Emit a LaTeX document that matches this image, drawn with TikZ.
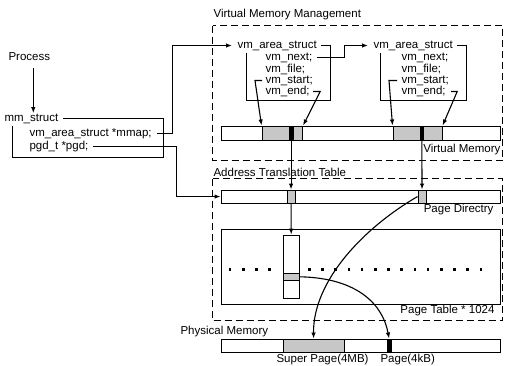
\documentclass[tikz,border=0pt]{standalone}
\usepackage{fontspec}
\setmainfont{Liberation Sans}
\usetikzlibrary{arrows.meta}
\begin{document}
\begin{tikzpicture}[x=1pt,y=-1pt,line width=1.1pt,>={Latex[length=6pt,width=4.5pt]},
    lbl/.style={font=\fontsize{11.5}{13}\selectfont,inner sep=0pt,anchor=west},
    rlbl/.style={lbl,anchor=east},
    bar/.style={draw,fill=white,inner sep=0pt,anchor=north west,minimum width=279pt},
    cell/.style={draw,fill=black!22,inner sep=0pt,anchor=north west},
    blk/.style={draw,fill=black,inner sep=0pt,anchor=north west},
    group/.style={draw,dash pattern=on 7pt off 4pt}]

    \useasboundingbox (0,0) rectangle (518,365);

    \draw[group] (212.5,25.5) rectangle (502.5,160.5);
    \draw[group] (212.5,178.5) rectangle (502.5,320.5);

    \node[lbl] (proc) at (8,57) {Process};
    \node[lbl] (mm) at (4,118.5) {mm\_struct};
    \node[lbl] (mmap) at (29,133.5) {vm\_area\_struct *mmap;};
    \node[lbl] (pgd) at (29,146.5) {pgd\_t *pgd;};

    \node[lbl] (vma1) at (237,45.5) {vm\_area\_struct};
    \node[lbl] (f1next) at (265,57.5) {vm\_next;};
    \node[lbl] (f1file) at (265,69) {vm\_file;};
    \node[lbl] (f1start) at (265,80.5) {vm\_start;};
    \node[lbl] (f1end) at (265,91.5) {vm\_end;};

    \node[lbl] (vma2) at (373,45.5) {vm\_area\_struct};
    \node[lbl] (f2next) at (401,57.5) {vm\_next;};
    \node[lbl] (f2file) at (401,69) {vm\_file;};
    \node[lbl] (f2start) at (401,80.5) {vm\_start;};
    \node[lbl] (f2end) at (401,91.5) {vm\_end;};

    \node[lbl] (vmmlbl) at (213,15) {Virtual Memory Management};
    \node[rlbl] (vmlbl) at (501,150) {Virtual Memory};
    \node[lbl] (attlbl) at (213,172) {Address Translation Table};
    \node[rlbl] (pdlbl) at (494,210) {Page Directry};
    \node[rlbl] (ptlbl) at (495,311) {Page Table * 1024};
    \node[lbl] (pmlbl) at (180,332) {Physical Memory};
    \node[lbl] (splbl) at (276,360) {Super Page(4MB)};
    \node[lbl] (pglbl) at (380,360) {Page(4kB)};

    \node[bar,minimum height=14pt] (vm) at (220.5,125.5) {};
    \node[cell,minimum width=27pt,minimum height=14pt] (s1) at (261.5,125.5) {};
    \node[blk,minimum width=4pt,minimum height=14pt] (b1) at (288.5,125.5) {};
    \node[cell,minimum width=9.5pt,minimum height=14pt] (s2) at (292.5,125.5) {};
    \node[cell,minimum width=27pt,minimum height=14pt] (s3) at (392.5,125.5) {};
    \node[blk,minimum width=3.5pt,minimum height=14pt] (b2) at (419.5,125.5) {};
    \node[cell,minimum width=18.5pt,minimum height=14pt] (s4) at (423,125.5) {};

    \node[bar,minimum height=13pt] (pd) at (220.5,189.5) {};
    \node[cell,minimum width=8pt,minimum height=13pt] (c1) at (286.5,189.5) {};
    \node[cell,minimum width=8pt,minimum height=13pt] (c2) at (417.5,189.5) {};

    \node[bar,minimum height=75pt] (pt) at (220.5,228.5) {};
    \foreach \i in {0,...,19}{
        \ifnum\i=4 \else\ifnum\i=5 \else
            \fill ({230+13.2*\i-1.3},268.2) rectangle ++(2.6,2.6);
        \fi\fi
    }
    \node[bar,minimum width=16.5pt,minimum height=63pt] (col) at (282.5,234.5) {};
    \node[cell,minimum width=16.5pt,minimum height=6.5pt] (pe) at (282.5,273) {};

    \node[bar,minimum height=13pt] (pm) at (220.5,338.5) {};
    \node[cell,minimum width=61pt,minimum height=13pt] (sp) at (282.5,338.5) {};
    \node[blk,minimum width=4pt,minimum height=13pt] (bp) at (386.5,338.5) {};

    \coordinate (pa) at ([xshift=4pt]proc.south);
    \draw[->] ([yshift=-6pt]pa) -- (pa |- mm.north);
    \draw ([xshift=4pt]mm.east) -- (163.5,118.5) |- (12.5,157.5) -- ([xshift=8.5pt,yshift=-2pt]mm.south west);
    \draw[->] ([xshift=5pt]mmap.east) -- (172.5,133.5) |- ([xshift=-5pt]vma1.west);
    \draw[->] ([xshift=4pt]pgd.east) -- (176.5,146.5) |- (pd.west);

    \draw ([xshift=4pt]vma1.east) -- (330.5,45.5) |- (246.5,100.5) -- ([xshift=9.5pt,yshift=-2pt]vma1.south west);
    \draw[->] ([xshift=4pt]f1next.east) -- (344.5,57.5) |- ([xshift=-5pt]vma2.west);
    \draw[->] ([xshift=-3pt]f1start.west) -- ++(-7,0) -- (s1.north west);
    \draw[->] ([xshift=3pt]f1end.east) -- ++(7,0) -- (s2.north east);

    \draw ([xshift=4pt]vma2.east) -- (466.5,45.5) |- (380.5,100.5) -- ([xshift=7.5pt,yshift=-2pt]vma2.south west);
    \draw[->] ([xshift=-4pt]f2start.west) -- ++(-8,0) -- (s3.north west);
    \draw[->] ([xshift=5pt]f2end.east) -- ++(6,0) -- (s4.north east);

    \path[->]
        (b1) edge (c1)
        (b2) edge (c2)
        (c1) edge (col);

    \draw[->] (c2.west) .. controls (365,227) and (313,280) .. (sp.north);
    \draw[->] (pe.east) .. controls (358,278) and (383,305) .. (bp.north);
\end{tikzpicture}
\end{document}
